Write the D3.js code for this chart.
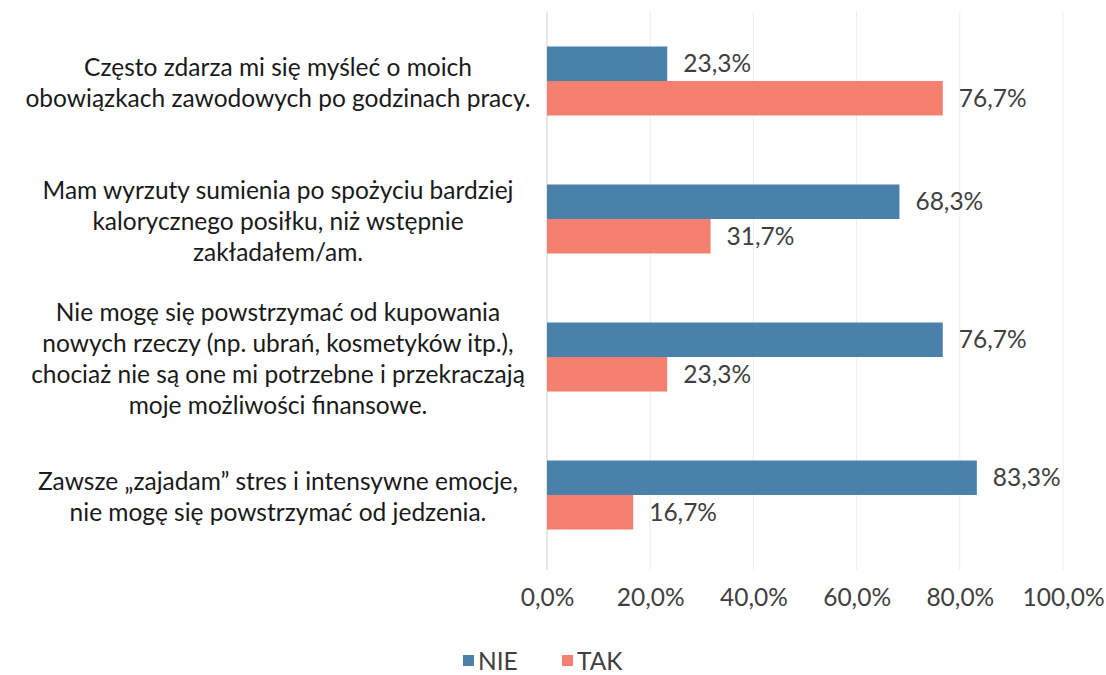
<!DOCTYPE html>
<html>
<head>
<meta charset="utf-8">
<script src="https://cdn.jsdelivr.net/npm/d3@7"></script>
<style>
  body { margin: 0; background: #fff; }
  svg { font-family: Lato, "Open Sans", sans-serif; }
</style>
</head>
<body>
<svg id="chart" width="1106" height="675"></svg>
<script>
// categories, each one split into lines as in the original
const categories = [
    ["Często zdarza mi się myśleć o moich", "obowiązkach zawodowych po godzinach pracy."],
    ["Mam wyrzuty sumienia po spożyciu bardziej", "kalorycznego posiłku, niż wstępnie", "zakładałem/am."],
    ["Nie mogę się powstrzymać od kupowania", "nowych rzeczy (np. ubrań, kosmetyków itp.),", "chociaż nie są one mi potrzebne i przekraczają", "moje możliwości finansowe."],
    ["Zawsze „zajadam” stres i intensywne emocje,", "nie mogę się powstrzymać od jedzenia."]
];
const seriesNames = ["NIE", "TAK"];
const nieValues = [23.3, 68.3, 76.7, 83.3];
const takValues = [76.7, 31.7, 23.3, 16.7];
const xTicks = [0, 20, 40, 60, 80, 100];

const colors = { NIE: "#4a81aa", TAK: "#f5806f" };
const textColor = "#404040";
const fontSize = 24.5;

const svg = d3.select("#chart");

const x = d3.scaleLinear().domain([0, 100]).range([547, 1063]);
const y = d3.scaleBand()
    .domain(d3.range(categories.length))
    .range([12, 564])
    .paddingInner(0.5)
    .paddingOuter(0.25);
const ySub = d3.scaleBand()
    .domain(seriesNames)
    .range([0, y.bandwidth()]);

const fmt = v => d3.format(".1f")(v).replace(".", ",") + "%";

// grid lines
svg.append("g")
    .selectAll("line")
    .data(xTicks)
    .join("line")
    .attr("x1", d => x(d))
    .attr("x2", d => x(d))
    .attr("y1", 12)
    .attr("y2", 570)
    .attr("stroke", d => d === 0 ? "#cfcfcf" : "#ececec")
    .attr("stroke-width", 1);

// x axis labels (no axis line in the original)
const xAxis = d3.axisBottom(x).tickValues(xTicks).tickSize(0).tickFormat(fmt);
svg.append("g")
    .attr("transform", "translate(0,586)")
    .call(xAxis)
    .call(g => g.select(".domain").remove())
    .call(g => g.selectAll("text")
        .attr("fill", textColor)
        .attr("font-size", fontSize)
        .attr("font-family", "Lato, sans-serif"));

// bars
const rows = categories.map((c, i) => ({
    i: i,
    values: [
        { key: "NIE", value: nieValues[i] },
        { key: "TAK", value: takValues[i] }
    ]
}));

const groups = svg.append("g")
    .selectAll("g")
    .data(rows)
    .join("g")
    .attr("transform", d => "translate(0," + y(d.i) + ")");

groups.selectAll("rect")
    .data(d => d.values)
    .join("rect")
    .attr("x", x(0))
    .attr("y", d => ySub(d.key))
    .attr("width", d => x(d.value) - x(0))
    .attr("height", ySub.bandwidth())
    .attr("fill", d => colors[d.key]);

groups.selectAll("text.val")
    .data(d => d.values)
    .join("text")
    .attr("class", "val")
    .attr("x", d => x(d.value) + 16)
    .attr("y", d => ySub(d.key) + ySub.bandwidth() / 2)
    .attr("dy", "0.35em")
    .attr("fill", textColor)
    .attr("font-size", fontSize)
    .text(d => fmt(d.value));

// category labels
const lineH = 31;
svg.append("g")
    .selectAll("text")
    .data(categories)
    .join("text")
    .attr("text-anchor", "middle")
    .attr("fill", "#1a1a1a")
    .attr("font-size", fontSize)
    .each(function (lines, i) {
        const cy = y(i) + y.bandwidth() / 2 + 2;
        const top = cy - (lines.length - 1) * lineH / 2;
        d3.select(this).selectAll("tspan")
            .data(lines)
            .join("tspan")
            .attr("x", 278)
            .attr("y", (d, j) => top + j * lineH)
            .attr("dy", "0.35em")
            .text(d => d);
    });

// legend
const legend = svg.append("g")
    .selectAll("g")
    .data(seriesNames)
    .join("g")
    .attr("transform", (d, i) => "translate(" + (463 + i * 99) + ",655)");

legend.append("rect")
    .attr("width", 11)
    .attr("height", 11)
    .attr("fill", d => colors[d]);

legend.append("text")
    .attr("x", 15)
    .attr("y", 6)
    .attr("dy", "0.35em")
    .attr("fill", textColor)
    .attr("font-size", fontSize)
    .text(d => d);
</script>
</body>
</html>
